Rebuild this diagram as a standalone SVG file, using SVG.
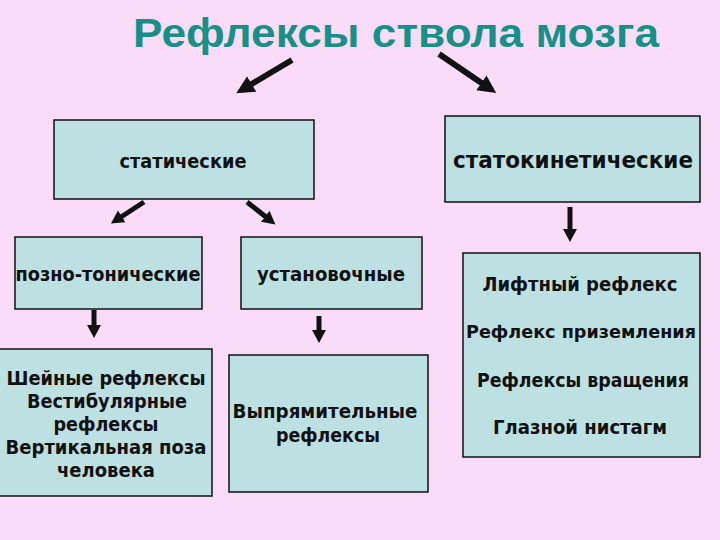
<svg xmlns="http://www.w3.org/2000/svg" width="720" height="540" viewBox="0 0 720 540">
<defs>
<style>
.box{fill:#bde0e3;stroke:#111;stroke-width:1.5}
.t{font-family:"DejaVu Sans","Liberation Sans",sans-serif;font-weight:bold;fill:#111;text-anchor:middle}
.title{font-family:"Liberation Sans",Arial,sans-serif;font-weight:bold;fill:#17908a;font-size:41px;text-anchor:middle}
.a{stroke:#111;fill:none;stroke-width:6}
.as{stroke:#111;fill:none;stroke-width:5}
</style>
<marker id="hb" markerUnits="userSpaceOnUse" markerWidth="20" markerHeight="20" refX="2" refY="9" orient="auto">
<path d="M0,0 L18,9 L0,18 z" fill="#111"/>
</marker>
<marker id="hs" markerUnits="userSpaceOnUse" markerWidth="16" markerHeight="16" refX="1" refY="7" orient="auto">
<path d="M0,0 L13,7 L0,14 z" fill="#111"/>
</marker>
</defs>
<rect width="720" height="540" fill="#fbdcf8"/>
<text class="title" x="396" y="47" textLength="526" lengthAdjust="spacingAndGlyphs">Рефлексы ствола мозга</text>

<g id="connectors">
<line class="a" x1="292" y1="60" x2="250" y2="85" marker-end="url(#hb)"/>
<line class="a" x1="439" y1="54" x2="483" y2="84" marker-end="url(#hb)"/>
<line class="as" x1="144" y1="202" x2="121" y2="217" marker-end="url(#hs)"/>
<line class="as" x1="247" y1="202" x2="266" y2="217" marker-end="url(#hs)"/>
<line class="as" x1="570" y1="207" x2="570" y2="230" marker-end="url(#hs)"/>
<line class="as" x1="94" y1="310" x2="94" y2="326" marker-end="url(#hs)"/>
<line class="as" x1="319" y1="316" x2="319" y2="331" marker-end="url(#hs)"/>
</g>

<g id="static">
<rect class="box" x="54" y="120" width="260" height="79"/>
<text class="t" x="183" y="168" font-size="19" textLength="127" lengthAdjust="spacingAndGlyphs">статические</text>
</g>
<g id="statokinetic">
<rect class="box" x="445" y="116" width="255" height="86"/>
<text class="t" x="573" y="168" font-size="23" textLength="240" lengthAdjust="spacingAndGlyphs">статокинетические</text>
</g>
<g id="pozno">
<rect class="box" x="15" y="237" width="187" height="72"/>
<text class="t" x="108" y="281" font-size="20" textLength="185" lengthAdjust="spacingAndGlyphs">позно-тонические</text>
</g>
<g id="ustanov">
<rect class="box" x="241" y="237" width="181" height="72"/>
<text class="t" x="331" y="281" font-size="20" textLength="148" lengthAdjust="spacingAndGlyphs">установочные</text>
</g>
<g id="kinetic-list">
<rect class="box" x="463" y="253" width="237" height="204"/>
<text class="t" x="580" y="291" font-size="20" textLength="195" lengthAdjust="spacingAndGlyphs">Лифтный рефлекс</text>
<text class="t" x="581" y="338" font-size="18" textLength="230" lengthAdjust="spacingAndGlyphs">Рефлекс приземления</text>
<text class="t" x="583" y="387" font-size="20" textLength="212" lengthAdjust="spacingAndGlyphs">Рефлексы вращения</text>
<text class="t" x="580" y="434" font-size="20" textLength="174" lengthAdjust="spacingAndGlyphs">Глазной нистагм</text>
</g>
<g id="neck">
<rect class="box" x="-1" y="349" width="213" height="147"/>
<text class="t" x="106" y="385" font-size="19" textLength="199" lengthAdjust="spacingAndGlyphs">Шейные рефлексы</text>
<text class="t" x="107" y="408" font-size="19" textLength="160" lengthAdjust="spacingAndGlyphs">Вестибулярные</text>
<text class="t" x="106" y="431" font-size="19" textLength="105" lengthAdjust="spacingAndGlyphs">рефлексы</text>
<text class="t" x="106" y="454" font-size="19" textLength="201" lengthAdjust="spacingAndGlyphs">Вертикальная поза</text>
<text class="t" x="106" y="477" font-size="19" textLength="98" lengthAdjust="spacingAndGlyphs">человека</text>
</g>
<g id="righting">
<rect class="box" x="229" y="355" width="199" height="137"/>
<text class="t" x="325" y="418" font-size="20" textLength="185" lengthAdjust="spacingAndGlyphs">Выпрямительные</text>
<text class="t" x="328" y="442" font-size="20" textLength="104" lengthAdjust="spacingAndGlyphs">рефлексы</text>
</g>
</svg>
